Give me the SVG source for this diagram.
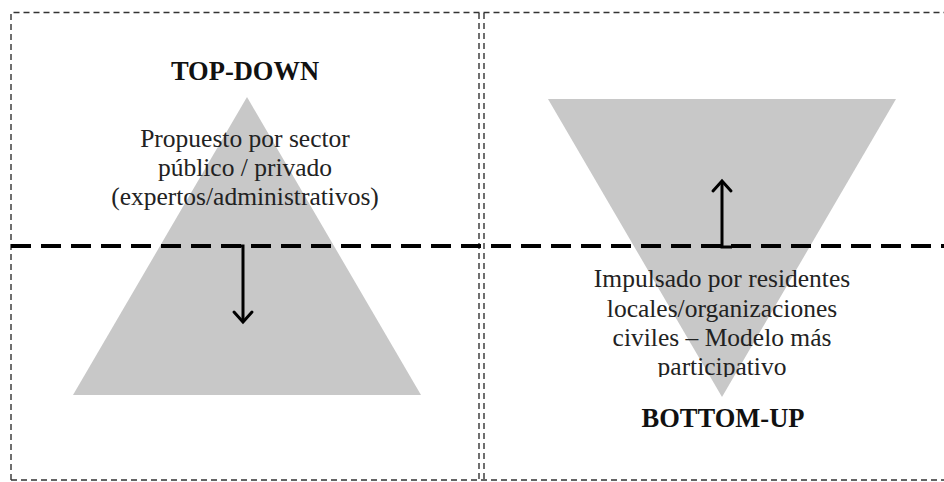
<svg xmlns="http://www.w3.org/2000/svg" width="944" height="482" viewBox="0 0 944 482">
  <defs>
    <style>
      .frame { fill: none; stroke: #333; stroke-width: 1.4; stroke-dasharray: 6 4; }
      .divider { fill: none; stroke: #000; stroke-width: 4; stroke-dasharray: 20 10; }
      .tri { fill: #c8c8c8; stroke: none; }
      .arrow { fill: none; stroke: #000; stroke-width: 3; stroke-linecap: butt; stroke-linejoin: miter; }
      .head { fill: none; stroke: #000; stroke-width: 3; stroke-linecap: round; stroke-linejoin: miter; }
      .title { font-family: "Liberation Serif", "Times New Roman", serif; font-weight: bold; font-size: 26.5px; fill: #111; text-anchor: middle; }
      .body { font-family: "Liberation Serif", "Times New Roman", serif; font-size: 25.5px; fill: #222; text-anchor: middle; }
    </style>
    <clipPath id="clipR">
      <rect x="484" y="250" width="460" height="127"/>
    </clipPath>
  </defs>
  <rect width="944" height="482" fill="#fff"/>

  <g id="frames">
    <path class="frame" d="M11,480 V12.5 H944"/>
    <path class="frame" d="M479,13 V482"/>
    <path class="frame" d="M484,13 V482"/>
    <path class="frame" d="M11,480 H944"/>
  </g>

  <g id="top-down">
    <polygon class="tri" points="247,97 73,395 421,395"/>
    <text class="title" x="245" y="80">TOP-DOWN</text>
    <text class="body" x="245" y="147">Propuesto por sector</text>
    <text class="body" x="245" y="176">público / privado</text>
    <text class="body" x="245" y="205">(expertos/administrativos)</text>
  </g>

  <g id="bottom-up">
    <polygon class="tri" points="548,99 896,99 722,397"/>
    <g clip-path="url(#clipR)">
      <text class="body" x="722" y="287">Impulsado por residentes</text>
      <text class="body" x="722" y="317">locales/organizaciones</text>
      <text class="body" x="722" y="346">civiles – Modelo más</text>
      <text class="body" x="722" y="375">participativo</text>
    </g>
    <text class="title" x="723" y="427">BOTTOM-UP</text>
  </g>

  <g id="connectors">
    <line class="divider" x1="11" y1="246" x2="944" y2="246"/>
    <path class="arrow" d="M232,246 H243 V321"/>
    <path class="head" d="M234,312 L243,322 L252,312"/>
    <path class="arrow" d="M732,247 H722 V182"/>
    <path class="head" d="M713,191 L722,181 L731,191"/>
  </g>
</svg>
